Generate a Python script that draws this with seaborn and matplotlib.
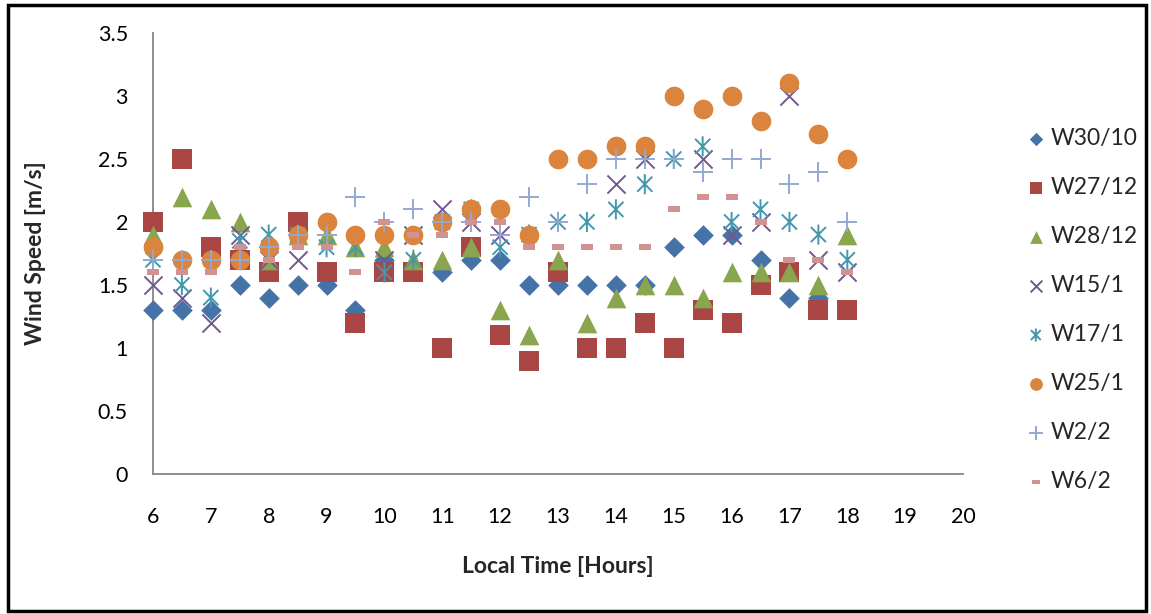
#!/usr/bin/env python3
import numpy as np
import matplotlib
matplotlib.use("Agg")
import matplotlib.pyplot as plt
from matplotlib.path import Path
from matplotlib.markers import MarkerStyle
from matplotlib.patches import Rectangle
import seaborn as sns

nan = np.nan

hours = [6, 6.5, 7, 7.5, 8, 8.5, 9, 9.5, 10, 10.5, 11, 11.5, 12,
         12.5, 13, 13.5, 14, 14.5, 15, 15.5, 16, 16.5, 17, 17.5, 18]

w30_10 = [1.3, 1.3, 1.3, 1.5, 1.4, 1.5, 1.5, 1.3, 1.7, nan, 1.6, 1.7, 1.7,
          1.5, 1.5, 1.5, 1.5, 1.5, 1.8, 1.9, 1.9, 1.7, 1.4, 1.4, nan]
w27_12 = [2.0, 2.5, 1.8, 1.7, 1.6, 2.0, 1.6, 1.2, 1.6, 1.6, 1.0, 1.8, 1.1,
          0.9, 1.6, 1.0, 1.0, 1.2, 1.0, 1.3, 1.2, 1.5, 1.6, 1.3, 1.3]
w28_12 = [1.9, 2.2, 2.1, 2.0, 1.7, 1.9, 1.9, 1.8, 1.8, 1.7, 1.7, 1.8, 1.3,
          1.1, 1.7, 1.2, 1.4, 1.5, 1.5, 1.4, 1.6, 1.6, 1.6, 1.5, 1.9]
w15_1 = [1.5, 1.4, 1.2, 1.9, 1.7, 1.7, nan, nan, 1.7, 1.9, 2.1, 2.0, 1.9,
         nan, nan, nan, 2.3, 2.5, nan, 2.5, 1.9, 2.0, 3.0, 1.7, 1.6]
w17_1 = [1.7, 1.5, 1.4, 1.85, 1.9, 1.9, 1.8, 1.8, 1.6, 1.7, 2.0, 2.1, 1.8,
         1.9, 2.0, 2.0, 2.1, 2.3, 2.5, 2.6, 2.0, 2.1, 2.0, 1.9, 1.7]
w25_1 = [1.8, 1.7, 1.7, 1.7, 1.8, 1.9, 2.0, 1.9, 1.9, 1.9, 2.0, 2.1, 2.1,
         1.9, 2.5, 2.5, 2.6, 2.6, 3.0, 2.9, 3.0, 2.8, 3.1, 2.7, 2.5]
w2_2 = [1.7, 1.7, 1.7, 1.7, 1.8, 1.9, 1.9, 2.2, 2.0, 2.1, 2.0, 2.0, 1.9,
        2.2, 2.0, 2.3, 2.5, 2.5, 2.5, 2.4, 2.5, 2.5, 2.3, 2.4, 2.0]
w6_2 = [1.6, 1.6, 1.6, 1.8, 1.7, 1.8, 1.8, 1.6, 2.0, 1.9, 1.9, 2.0, 2.0,
        1.8, 1.8, 1.8, 1.8, 1.8, 2.1, 2.2, 2.2, 2.0, 1.7, 1.7, 1.6]

series_names = ["W30/10", "W27/12", "W28/12", "W15/1", "W17/1", "W25/1", "W2/2", "W6/2"]
series_values = [w30_10, w27_12, w28_12, w15_1, w17_1, w25_1, w2_2, w6_2]
colors = ["#4572A7", "#AA4643", "#89A54E", "#71588F", "#4198AF", "#DB843D", "#93A9CF", "#D19392"]

# excel style asterisk and dash markers
star_path = Path([(0, -1), (0, 1), (-0.75, -0.75), (0.75, 0.75), (-0.75, 0.75), (0.75, -0.75)],
                 [Path.MOVETO, Path.LINETO, Path.MOVETO, Path.LINETO, Path.MOVETO, Path.LINETO])
star = MarkerStyle(star_path, fillstyle="none")
dash = Path([(-1, -0.45), (1, -0.45), (1, 0.45), (-1, 0.45), (-1, -0.45)],
            [Path.MOVETO, Path.LINETO, Path.LINETO, Path.LINETO, Path.CLOSEPOLY])

markers = ["D", "s", "^", "x", star, "o", "+", dash]
sizes = [110, 200, 200, 170, 210, 200, 210, 80]

sns.set_theme(style="white")
plt.rcParams["font.family"] = ["Lato", "DejaVu Sans"]

fig = plt.figure(figsize=(11.51, 6.14), dpi=100)
ax = fig.add_axes([0.1329, 0.228, 0.7038, 0.7183])

for name, vals, col, m, s in zip(series_names, series_values, colors, markers, sizes):
    mk = m if isinstance(m, MarkerStyle) else MarkerStyle(m)
    lw = 0 if mk.is_filled() else 1.4
    sns.scatterplot(x=hours, y=vals, marker=m, s=s, color=col, linewidth=lw,
                    label=name, ax=ax, zorder=3, clip_on=False)

ax.set_xlim(6, 20)
ax.set_ylim(0, 3.5)
ax.set_xticks(range(6, 21))
ax.set_yticks(np.arange(0, 3.51, 0.5))
ax.set_yticklabels(["0", "0.5", "1", "1.5", "2", "2.5", "3", "3.5"])

for side in ["top", "right"]:
    ax.spines[side].set_visible(False)
for side in ["left", "bottom"]:
    ax.spines[side].set_color("#868686")
    ax.spines[side].set_linewidth(1.3)

ax.tick_params(axis="both", which="major", direction="out", length=5, width=1.2,
               color="#868686", labelsize=15.5, labelcolor="black")
ax.tick_params(axis="x", pad=19)
ax.tick_params(axis="y", pad=13)
ax.grid(False)

ax.set_xlabel("Local Time [Hours]", fontsize=16.5, fontweight="bold")
ax.set_ylabel("Wind Speed [m/s]", fontsize=16.5, fontweight="bold")
ax.xaxis.set_label_coords(0.5, -0.185)
ax.yaxis.set_label_coords(-0.132, 0.5)

leg = ax.legend(loc="center left", bbox_to_anchor=(0.882, 0.495),
                bbox_transform=fig.transFigure, frameon=False, fontsize=16.5,
                markerscale=0.65, labelspacing=1.22, handletextpad=0.15,
                handlelength=1.0, borderaxespad=0)

fig.patches.append(Rectangle((0.007, 0.005), 0.989, 0.987, transform=fig.transFigure,
                             fill=False, edgecolor="black", linewidth=2.5))

fig.savefig("out.png", dpi=100)
